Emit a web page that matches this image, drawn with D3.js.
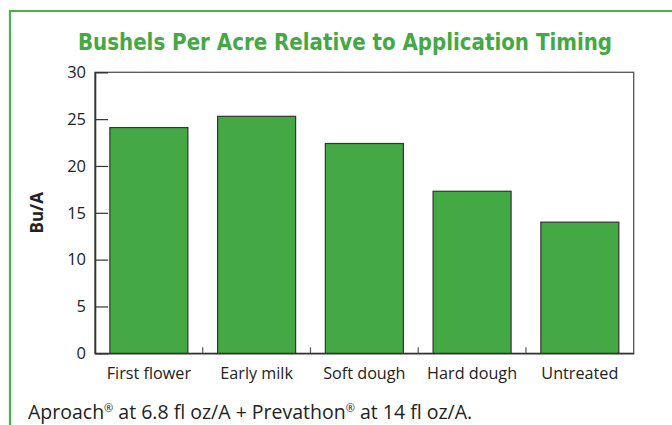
<!DOCTYPE html>
<html><head><meta charset="utf-8">
<script src="https://cdn.jsdelivr.net/npm/d3@7"></script>
<style>
html,body{margin:0;padding:0;background:#fff;}
svg{display:block;}
</style></head>
<body>
<script>
const categories = ["First flower", "Early milk", "Soft dough", "Hard dough", "Untreated"];
const values = [24.1, 25.3, 22.4, 17.3, 14.0];
const yTicks = [0, 5, 10, 15, 20, 25, 30];
const title = "Bushels Per Acre Relative to Application Timing";
const yLabel = "Bu/A";
const footnote = ["Aproach", "®", " at 6.8 fl oz/A + Prevathon", "®", " at 14 fl oz/A."];

const W = 672, H = 425;
const m = {left: 95, right: 38.3, top: 72.3, bottom: 71.7};
const svg = d3.select("body").append("svg").attr("width", W).attr("height", H);

// green frame
svg.append("path").attr("d", `M10,${H+5} V11 H${W+5}`)
  .attr("fill", "none").attr("stroke", "#4cb04c").attr("stroke-width", 2.2);

svg.append("text").attr("x", 345).attr("y", 50).attr("text-anchor", "middle")
  .attr("font-family", "'DejaVu Sans Condensed','DejaVu Sans',sans-serif").attr("font-weight", "bold")
  .attr("font-size", 23.5).attr("fill", "#44a844").attr("textLength", 534).attr("lengthAdjust", "spacingAndGlyphs")
  .text(title);

const x = d3.scaleBand().domain(categories).range([m.left, W - m.right]).paddingInner(0.276).paddingOuter(0.138);
const xb = d3.scaleBand().domain(categories).range([m.left, W - m.right]).padding(0);
const y = d3.scaleLinear().domain([0, 30]).range([H - m.bottom, m.top]);

const g = svg.append("g");
g.append("rect").attr("x", m.left).attr("y", m.top).attr("width", W - m.right - m.left).attr("height", H - m.bottom - m.top)
  .attr("fill", "none").attr("stroke", "#555").attr("stroke-width", 1.3);

g.selectAll("rect.bar").data(values).enter().append("rect").attr("class", "bar")
  .attr("x", (d, i) => x(categories[i])).attr("width", x.bandwidth())
  .attr("y", d => y(d)).attr("height", d => y(0) - y(d))
  .attr("fill", "#44a944").attr("stroke", "#333").attr("stroke-width", 1.2);

const ya = g.append("g").attr("transform", `translate(${m.left},0)`)
  .call(d3.axisLeft(y).tickValues(yTicks).tickSize(-13).tickPadding(22));
ya.select(".domain").attr("stroke", "#333").attr("stroke-width", 1.6);
ya.selectAll(".tick line").attr("stroke", "#333").attr("stroke-width", 1.2)
  .filter(d => d === 30 || d === 0).remove();
ya.selectAll(".tick text").attr("font-family", "'Open Sans',sans-serif").attr("font-size", 16.5).attr("fill", "#222")
  .attr("text-anchor", "end").attr("x", -9);

const xa = g.append("g").attr("transform", `translate(0,${H - m.bottom})`)
  .call(d3.axisBottom(xb).tickSize(0).tickPadding(14));
xa.select(".domain").attr("stroke", "#333").attr("stroke-width", 1.6);
xa.selectAll(".tick text").attr("font-family", "'Open Sans',sans-serif").attr("font-size", 16.2).attr("fill", "#222");
xa.selectAll("line.sep").data(categories.slice(1)).enter().append("line").attr("class", "sep")
  .attr("x1", d => xb(d)).attr("x2", d => xb(d)).attr("y1", 0).attr("y2", -6)
  .attr("stroke", "#555").attr("stroke-width", 1.2);

svg.append("text").attr("transform", `translate(43,${(m.top + H - m.bottom) / 2}) rotate(-90)`)
  .attr("text-anchor", "middle").attr("font-family", "'Open Sans',sans-serif").attr("font-weight", "bold")
  .attr("font-size", 17).attr("fill", "#222").text(yLabel);

const fn = svg.append("text").attr("x", 28).attr("y", 419).attr("font-family", "'Open Sans',sans-serif")
  .attr("font-size", 19.5).attr("fill", "#222");
footnote.forEach((s, i) => {
  const t = fn.append("tspan").text(s);
  if (s === "®") t.attr("font-size", 11).attr("dy", -7);
  else if (i > 0) t.attr("dy", 7);
});
</script>
</body></html>
